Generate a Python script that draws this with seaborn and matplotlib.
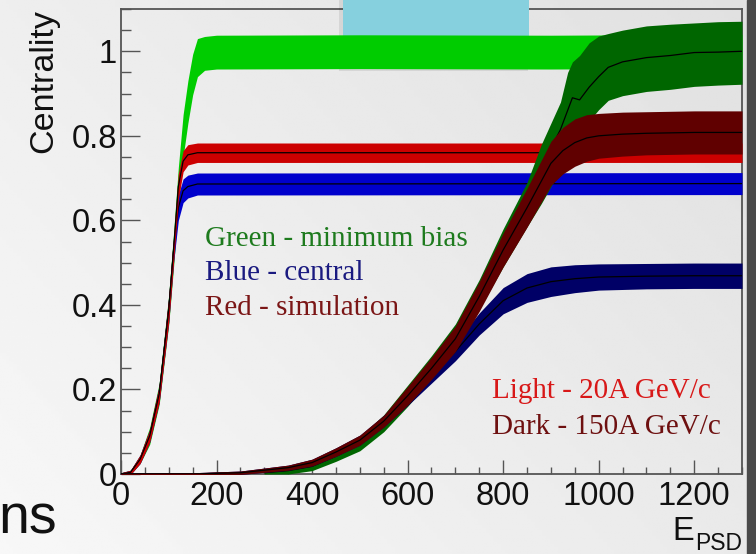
import numpy as np
import pandas as pd
import matplotlib
matplotlib.use('Agg')
import matplotlib.pyplot as plt
import seaborn as sns
from matplotlib.patches import Rectangle
from matplotlib.ticker import MultipleLocator

# values
# light = 20A GeV/c, dark = 150A GeV/c
lg_x = [0, 20, 40, 60, 80, 100, 110, 120, 130, 140, 150, 160, 175, 200, 500, 900, 1300]
lg_y = [0, 0.004, 0.035, 0.09, 0.19, 0.39, 0.53, 0.68, 0.80, 0.88, 0.945, 0.985, 0.995, 0.998, 0.999, 0.998, 1.0]
lg_err = [0.003, 0.005, 0.01, 0.02, 0.025, 0.035, 0.04, 0.045, 0.05, 0.05, 0.048, 0.045, 0.04, 0.04, 0.04, 0.04, 0.04]

lr_x = [0, 20, 40, 60, 80, 100, 110, 120, 130, 140, 160, 1300]
lr_y = [0, 0.004, 0.035, 0.09, 0.19, 0.39, 0.53, 0.68, 0.74, 0.755, 0.76, 0.76]
lr_err = [0.003, 0.005, 0.01, 0.015, 0.02, 0.03, 0.03, 0.03, 0.025, 0.024, 0.023, 0.023]

lb_x = [0, 20, 40, 60, 80, 100, 110, 120, 130, 140, 160, 1300]
lb_y = [0, 0.004, 0.035, 0.09, 0.19, 0.39, 0.53, 0.63, 0.67, 0.68, 0.686, 0.687]
lb_err = [0.003, 0.005, 0.01, 0.015, 0.02, 0.03, 0.03, 0.03, 0.028, 0.027, 0.026, 0.026]

dg_x = [300, 350, 400, 450, 500, 550, 600, 650, 700, 750, 800, 850, 880, 900, 920, 935, 945,
        960, 980, 1000, 1020, 1050, 1100, 1150, 1200, 1250, 1300]
dg_y = [0.003, 0.008, 0.018, 0.042, 0.07, 0.118, 0.18, 0.25, 0.325, 0.425, 0.535, 0.64, 0.72, 0.77,
        0.815, 0.86, 0.89, 0.885, 0.915, 0.94, 0.962, 0.975, 0.985, 0.99, 0.997, 0.998, 1.0]
dg_lo = [0.0, 0.0, 0.008, 0.03, 0.055, 0.1, 0.16, 0.225, 0.295, 0.39, 0.49, 0.585, 0.64, 0.68,
         0.72, 0.76, 0.79, 0.81, 0.835, 0.862, 0.884, 0.895, 0.905, 0.91, 0.917, 0.92, 0.922]
dg_hi = [0.01, 0.018, 0.03, 0.058, 0.088, 0.14, 0.21, 0.28, 0.355, 0.46, 0.58, 0.69, 0.78, 0.83,
         0.88, 0.95, 0.975, 0.99, 1.02, 1.036, 1.042, 1.05, 1.06, 1.064, 1.067, 1.07, 1.071]

dr_x = [0, 150, 250, 350, 400, 450, 500, 550, 600, 650, 700, 750, 800, 850, 900, 925, 950, 975,
        1000, 1050, 1100, 1200, 1300]
dr_y = [0, 0, 0.003, 0.015, 0.027, 0.052, 0.08, 0.125, 0.185, 0.25, 0.32, 0.42, 0.53, 0.63,
        0.735, 0.765, 0.784, 0.795, 0.80, 0.804, 0.806, 0.808, 0.808]
dr_err = [0.002, 0.003, 0.004, 0.006, 0.008, 0.01, 0.012, 0.014, 0.022, 0.026, 0.03, 0.035, 0.04,
          0.046, 0.052, 0.055, 0.056, 0.055, 0.053, 0.052, 0.051, 0.051, 0.051]

db_x = [0, 150, 250, 350, 400, 450, 500, 550, 600, 650, 700, 750, 800, 850, 900, 950, 1000, 1100, 1200, 1300]
db_y = [0, 0, 0.003, 0.015, 0.027, 0.052, 0.08, 0.125, 0.18, 0.235, 0.29, 0.355, 0.41, 0.44,
        0.455, 0.462, 0.466, 0.468, 0.469, 0.469]
db_err = [0.002, 0.003, 0.004, 0.006, 0.008, 0.01, 0.012, 0.014, 0.018, 0.02, 0.022, 0.026, 0.031,
          0.034, 0.035, 0.033, 0.031, 0.03, 0.03, 0.03]

x_ticks = [0, 200, 400, 600, 800, 1000, 1200]
y_ticks = [0, 0.2, 0.4, 0.6, 0.8, 1.0]
y_tick_labels = ['0', '0.2', '0.4', '0.6', '0.8', '1']

sns.set_theme(style='ticks')
plt.rcParams['font.family'] = ['Liberation Sans', 'DejaVu Sans']

W, H = 756, 554
fig = plt.figure(figsize=(W / 100, H / 100), dpi=100)

# slide background
bg = fig.add_axes([0, 0, 1, 1], zorder=-10)
u, v = np.meshgrid(np.linspace(0, 1, 200), np.linspace(0, 1, 200))
bg.imshow(0.97 - 0.09 * (0.6 * u + 0.4 * v), cmap='gray', vmin=0, vmax=1,
          origin='lower', extent=[0, 1, 0, 1], aspect='auto')
bg.set_xlim(0, 1)
bg.set_ylim(0, 1)
bg.axis('off')
bg.add_patch(Rectangle((747 / W, 0), 9 / W, 1, color='#4a4a4a'))
fig.text(-2 / W, 1 - 533 / H, 'ns', fontsize=40, va='baseline', ha='left', color='#111111')

ax = fig.add_axes([121 / W, 80 / H, 621 / W, 465 / H])
ax.patch.set_alpha(0)


def band(x, y, lo, hi, color, z, line=True):
    ax.fill_between(x, lo, hi, color=color, lw=0, zorder=z)
    if line:
        df = pd.DataFrame({'x': x, 'y': y})
        sns.lineplot(data=df, x='x', y='y', ax=ax, color='black', lw=0.9, zorder=z + 0.05)


def sym(y, e, s):
    return [a + s * b for a, b in zip(y, e)]


band(lg_x, lg_y, sym(lg_y, lg_err, -1), sym(lg_y, lg_err, 1), '#00cc00', 3.0, line=False)
band(lb_x, lb_y, sym(lb_y, lb_err, -1), sym(lb_y, lb_err, 1), '#0000cc', 3.1)
band(lr_x, lr_y, sym(lr_y, lr_err, -1), sym(lr_y, lr_err, 1), '#cc0000', 3.2)
band(dg_x, dg_y, dg_lo, dg_hi, '#006600', 3.3)
band(db_x, db_y, sym(db_y, db_err, -1), sym(db_y, db_err, 1), '#000066', 3.4)
band(dr_x, dr_y, sym(dr_y, dr_err, -1), sym(dr_y, dr_err, 1), '#600000', 3.5)

# light blue slide box over the frame
ax.add_patch(Rectangle((339 / W, 1 - 71 / H), 189 / W, 71 / H, transform=fig.transFigure,
                       facecolor='black', alpha=0.08, lw=0, clip_on=False, zorder=2.6))
ax.add_patch(Rectangle((343 / W, 1 - 68 / H), 186 / W, 68 / H, transform=fig.transFigure,
                       facecolor='#86d0de', lw=0, clip_on=False, zorder=2.7))

ax.set_xlim(0, 1300)
ax.set_ylim(0, 1.1)
ax.set_xticks(x_ticks)
ax.set_xticklabels([str(t) for t in x_ticks])
ax.set_yticks(y_ticks)
ax.set_yticklabels(y_tick_labels)
ax.xaxis.set_minor_locator(MultipleLocator(50))
ax.yaxis.set_minor_locator(MultipleLocator(0.05))
ax.tick_params(which='both', direction='in', top=False, right=False, color='#555555', width=1.0,
               labelcolor='#111111')
ax.tick_params(axis='x', which='major', length=10, pad=5, labelsize=23.5)
ax.tick_params(axis='x', which='minor', length=5)
ax.tick_params(axis='y', which='major', length=14, pad=3, labelsize=23.5)
ax.tick_params(axis='y', which='minor', length=7.5)
for s in ax.spines.values():
    s.set_color('#555555')
    s.set_linewidth(1.3)

ax.set_xlabel('')
ax.set_ylabel('Centrality', fontsize=24.5, loc='top', color='#111111')
ax.yaxis.set_label_coords(-0.1, 1.0)
# E with PSD subscript
fig.text(694 / W, 1 - 540 / H, 'E', fontsize=23.5, ha='right', va='baseline', color='#111111')
fig.text(742 / W, 1 - 550 / H, 'PSD', fontsize=16.5, ha='right', va='baseline', color='#111111')

serif = ['Liberation Serif', 'DejaVu Serif']
fs = 21
fig.text(205 / W, 1 - 246 / H, 'Green - minimum bias', color='#1e7b1e', fontsize=fs, family=serif, va='baseline')
fig.text(205 / W, 1 - 280 / H, 'Blue - central', color='#1a1a80', fontsize=fs, family=serif, va='baseline')
fig.text(205 / W, 1 - 315 / H, 'Red - simulation', color='#7b1616', fontsize=fs, family=serif, va='baseline')
fig.text(492 / W, 1 - 398 / H, 'Light - 20A GeV/c', color='#d81818', fontsize=fs, family=serif, va='baseline')
fig.text(492 / W, 1 - 434 / H, 'Dark - 150A GeV/c', color='#6e1010', fontsize=fs, family=serif, va='baseline')

fig.savefig('out.png', dpi=100)
